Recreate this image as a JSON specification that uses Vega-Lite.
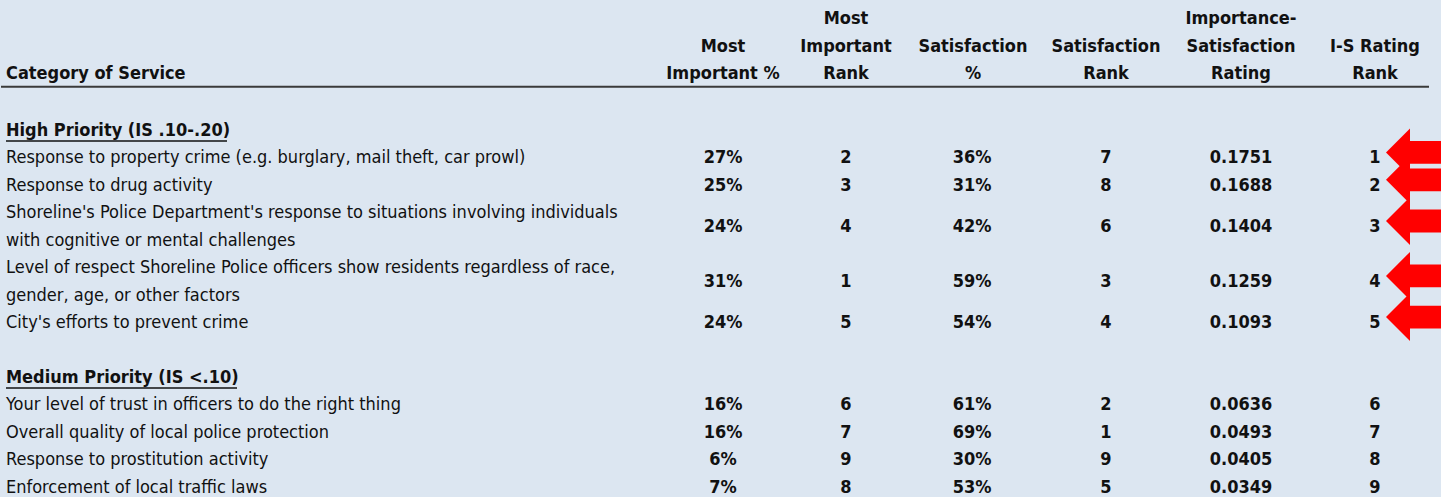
{
  "$schema": "https://vega.github.io/schema/vega-lite/v6.json",
  "width": 1441,
  "height": 497,
  "autosize": {"type": "fit", "contains": "padding"},
  "padding": 0,
  "background": "#dce6f1",
  "view": {"stroke": null},
  "config": {
    "text": {"font": "DejaVu Sans Condensed", "fontSize": 18, "color": "#111111", "lineBreak": "\n", "lineHeight": 27.5},
    "axis": {"disable": true}
  },
  "datasets": {
    "rows": [
      {"row": 5, "category": "Response to property crime (e.g. burglary, mail theft, car prowl)", "imp": 0.27, "impRank": 2, "sat": 0.36, "satRank": 7, "isr": 0.1751, "isRank": 1},
      {"row": 6, "category": "Response to drug activity", "imp": 0.25, "impRank": 3, "sat": 0.31, "satRank": 8, "isr": 0.1688, "isRank": 2},
      {"row": 7.5, "category": "Shoreline's Police Department's response to situations involving individuals\nwith cognitive or mental challenges", "imp": 0.24, "impRank": 4, "sat": 0.42, "satRank": 6, "isr": 0.1404, "isRank": 3},
      {"row": 9.5, "category": "Level of respect Shoreline Police officers show residents regardless of race,\ngender, age, or other factors", "imp": 0.31, "impRank": 1, "sat": 0.59, "satRank": 3, "isr": 0.1259, "isRank": 4},
      {"row": 11, "category": "City's efforts to prevent crime", "imp": 0.24, "impRank": 5, "sat": 0.54, "satRank": 4, "isr": 0.1093, "isRank": 5},
      {"row": 14, "category": "Your level of trust in officers to do the right thing", "imp": 0.16, "impRank": 6, "sat": 0.61, "satRank": 2, "isr": 0.0636, "isRank": 6},
      {"row": 15, "category": "Overall quality of local police protection", "imp": 0.16, "impRank": 7, "sat": 0.69, "satRank": 1, "isr": 0.0493, "isRank": 7},
      {"row": 16, "category": "Response to prostitution activity", "imp": 0.06, "impRank": 9, "sat": 0.30, "satRank": 9, "isr": 0.0405, "isRank": 8},
      {"row": 17, "category": "Enforcement of local traffic laws", "imp": 0.07, "impRank": 8, "sat": 0.53, "satRank": 5, "isr": 0.0349, "isRank": 9}
    ],
    "headers": [
      {"col": "category", "label": "Category of Service"},
      {"col": "imp", "label": "Most\nImportant %"},
      {"col": "impRank", "label": "Most\nImportant\nRank"},
      {"col": "sat", "label": "Satisfaction\n%"},
      {"col": "satRank", "label": "Satisfaction\nRank"},
      {"col": "isr", "label": "Importance-\nSatisfaction\nRating"},
      {"col": "isRank", "label": "I-S Rating\nRank"}
    ],
    "sections": [
      {"section": "High", "label": "High Priority (IS .10-.20)", "row": 4},
      {"section": "Medium", "label": "Medium Priority (IS <.10)", "row": 13}
    ]
  },
  "layer": [
    {
      "data": {"name": "rows"},
      "transform": [{"filter": "indexof(datum.category, '\\n') < 0"}],
      "mark": {"type": "text", "align": "left", "baseline": "middle"},
      "encoding": {
        "x": {"value": 5},
        "y": {"field": "row", "type": "quantitative", "scale": {"domain": [-0.77, 17.30], "reverse": true, "nice": false, "zero": false}, "axis": null},
        "text": {"field": "category", "type": "nominal"}
      }
    },
    {
      "data": {"name": "rows"},
      "transform": [{"filter": "indexof(datum.category, '\\n') >= 0"}],
      "mark": {"type": "text", "align": "left", "baseline": "middle"},
      "encoding": {
        "x": {"value": 5},
        "y": {"field": "row", "type": "quantitative"},
        "yOffset": {"value": -13.75},
        "text": {"field": "category", "type": "nominal"}
      }
    },
    {
      "data": {"name": "rows"},
      "mark": {"type": "text", "align": "center", "baseline": "middle", "fontWeight": "bold"},
      "encoding": {
        "x": {"value": 722},
        "y": {"field": "row", "type": "quantitative"},
        "text": {"field": "imp", "type": "quantitative", "format": ".0%"}
      }
    },
    {
      "data": {"name": "rows"},
      "mark": {"type": "text", "align": "center", "baseline": "middle", "fontWeight": "bold"},
      "encoding": {
        "x": {"value": 845},
        "y": {"field": "row", "type": "quantitative"},
        "text": {"field": "impRank", "type": "quantitative", "format": "d"}
      }
    },
    {
      "data": {"name": "rows"},
      "mark": {"type": "text", "align": "center", "baseline": "middle", "fontWeight": "bold"},
      "encoding": {
        "x": {"value": 971},
        "y": {"field": "row", "type": "quantitative"},
        "text": {"field": "sat", "type": "quantitative", "format": ".0%"}
      }
    },
    {
      "data": {"name": "rows"},
      "mark": {"type": "text", "align": "center", "baseline": "middle", "fontWeight": "bold"},
      "encoding": {
        "x": {"value": 1105},
        "y": {"field": "row", "type": "quantitative"},
        "text": {"field": "satRank", "type": "quantitative", "format": "d"}
      }
    },
    {
      "data": {"name": "rows"},
      "mark": {"type": "text", "align": "center", "baseline": "middle", "fontWeight": "bold"},
      "encoding": {
        "x": {"value": 1240},
        "y": {"field": "row", "type": "quantitative"},
        "text": {"field": "isr", "type": "quantitative", "format": ".4f"}
      }
    },
    {
      "data": {"name": "rows"},
      "mark": {"type": "text", "align": "center", "baseline": "middle", "fontWeight": "bold"},
      "encoding": {
        "x": {"value": 1374},
        "y": {"field": "row", "type": "quantitative"},
        "text": {"field": "isRank", "type": "quantitative", "format": "d"}
      }
    },
    {
      "data": {"name": "rows"},
      "transform": [{"filter": "datum.isRank <= 5"}],
      "mark": {"type": "point", "shape": "M -1 0 L -0.2 -0.8 L -0.2 -0.38 L 1 -0.38 L 1 0.38 L -0.2 0.38 L -0.2 0.8 Z", "filled": true, "color": "#ff0000", "opacity": 1, "size": 3600, "strokeWidth": 0},
      "encoding": {
        "x": {"value": 1415},
        "y": {"field": "row", "type": "quantitative"},
        "yOffset": {"value": -6}
      }
    },
    {
      "data": {"name": "headers"},
      "transform": [{"filter": "datum.col == 'category'"}],
      "mark": {"type": "text", "align": "left", "baseline": "middle", "fontWeight": "bold"},
      "encoding": {"x": {"value": 5}, "y": {"datum": 1.93, "type": "quantitative"}, "text": {"field": "label", "type": "nominal"}}
    },
    {
      "data": {"name": "headers"},
      "transform": [{"filter": "datum.col == 'imp'"}],
      "mark": {"type": "text", "align": "center", "baseline": "middle", "fontWeight": "bold"},
      "encoding": {"x": {"value": 722}, "y": {"datum": 0.93, "type": "quantitative"}, "text": {"field": "label", "type": "nominal"}}
    },
    {
      "data": {"name": "headers"},
      "transform": [{"filter": "datum.col == 'impRank'"}],
      "mark": {"type": "text", "align": "center", "baseline": "middle", "fontWeight": "bold"},
      "encoding": {"x": {"value": 845}, "y": {"datum": -0.07, "type": "quantitative"}, "text": {"field": "label", "type": "nominal"}}
    },
    {
      "data": {"name": "headers"},
      "transform": [{"filter": "datum.col == 'sat'"}],
      "mark": {"type": "text", "align": "center", "baseline": "middle", "fontWeight": "bold"},
      "encoding": {"x": {"value": 972}, "y": {"datum": 0.93, "type": "quantitative"}, "text": {"field": "label", "type": "nominal"}}
    },
    {
      "data": {"name": "headers"},
      "transform": [{"filter": "datum.col == 'satRank'"}],
      "mark": {"type": "text", "align": "center", "baseline": "middle", "fontWeight": "bold"},
      "encoding": {"x": {"value": 1105}, "y": {"datum": 0.93, "type": "quantitative"}, "text": {"field": "label", "type": "nominal"}}
    },
    {
      "data": {"name": "headers"},
      "transform": [{"filter": "datum.col == 'isr'"}],
      "mark": {"type": "text", "align": "center", "baseline": "middle", "fontWeight": "bold"},
      "encoding": {"x": {"value": 1240}, "y": {"datum": -0.07, "type": "quantitative"}, "text": {"field": "label", "type": "nominal"}}
    },
    {
      "data": {"name": "headers"},
      "transform": [{"filter": "datum.col == 'isRank'"}],
      "mark": {"type": "text", "align": "center", "baseline": "middle", "fontWeight": "bold"},
      "encoding": {"x": {"value": 1374}, "y": {"datum": 0.93, "type": "quantitative"}, "text": {"field": "label", "type": "nominal"}}
    },
    {
      "data": {"values": [{}]},
      "mark": {"type": "rule", "color": "#3a3a3a", "strokeWidth": 2},
      "encoding": {
        "x": {"value": 0},
        "x2": {"value": 1428},
        "y": {"datum": 2.39, "type": "quantitative"}
      }
    },
    {
      "data": {"name": "sections"},
      "mark": {"type": "text", "align": "left", "baseline": "middle", "fontWeight": "bold"},
      "encoding": {
        "x": {"value": 5},
        "y": {"field": "row", "type": "quantitative"},
        "text": {"field": "label", "type": "nominal"}
      }
    },
    {
      "data": {"name": "sections"},
      "transform": [{"filter": "datum.section == 'High'"}],
      "mark": {"type": "rule", "color": "#111111", "strokeWidth": 1.5},
      "encoding": {
        "x": {"value": 5},
        "x2": {"value": 226},
        "y": {"field": "row", "type": "quantitative"},
        "yOffset": {"value": 10}
      }
    },
    {
      "data": {"name": "sections"},
      "transform": [{"filter": "datum.section == 'Medium'"}],
      "mark": {"type": "rule", "color": "#111111", "strokeWidth": 1.5},
      "encoding": {
        "x": {"value": 5},
        "x2": {"value": 236},
        "y": {"field": "row", "type": "quantitative"},
        "yOffset": {"value": 10}
      }
    }
  ]
}
